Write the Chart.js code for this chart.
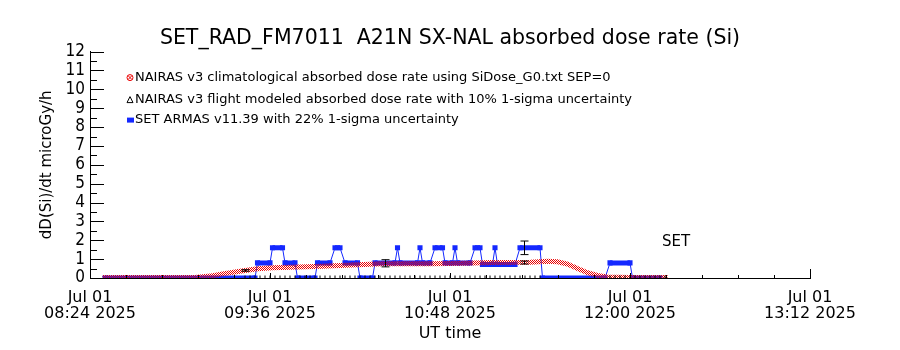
<!DOCTYPE html>
<html>
<head>
<meta charset="utf-8">
<title>SET_RAD_FM7011 A21N SX-NAL absorbed dose rate (Si)</title>
<script src="https://cdn.jsdelivr.net/npm/chart.js@4.4.1/dist/chart.umd.min.js"></script>
<style>
  html, body { margin: 0; padding: 0; background: #fff; }
  #wrap { width: 900px; height: 350px; }
</style>
</head>
<body>
<div id="wrap"><canvas id="doseChart" width="900" height="350"></canvas></div>
<script>
// x axis: minutes after Jul 01 2025 08:24 UT
const xTickMinutes = [0, 72, 144, 216, 288];
const xTickLabels = [
    ['Jul 01', '08:24 2025'],
    ['Jul 01', '09:36 2025'],
    ['Jul 01', '10:48 2025'],
    ['Jul 01', '12:00 2025'],
    ['Jul 01', '13:12 2025']
];
const xMinorMinutes = [14.4, 28.8, 43.2, 57.6, 86.4, 100.8, 115.2, 129.6,
    158.4, 172.8, 187.2, 201.6, 230.4, 244.8, 259.2, 273.6];

// y axis: microGy/h
const yTickValues = [0, 1, 2, 3, 4, 5, 6, 7, 8, 9, 10, 11, 12];
const yMinorValues = [0.5, 1.5, 2.5, 3.5, 4.5, 5.5, 6.5, 7.5, 8.5, 9.5, 10.5, 11.5];

// NAIRAS v3 climatological (red)
const redTime = [5, 20, 35, 42, 44, 48, 53, 60, 67, 73, 80, 93, 107, 117, 136, 150,
    160, 176, 183, 187, 191, 195, 199, 203, 207, 216, 231];
const redDose = [0.02, 0.02, 0.02, 0.03, 0.05, 0.10, 0.22, 0.36, 0.49, 0.54, 0.57, 0.62,
    0.70, 0.75, 0.76, 0.78, 0.82, 0.83, 0.89, 0.86, 0.74, 0.50, 0.28, 0.14, 0.05, 0.03, 0.02];

// SET ARMAS v11.39 (blue)
const blueTime = [6, 66, 67, 72, 73, 77, 78, 82, 83, 90, 91, 96, 98, 100, 102, 107,
    108, 113, 114, 122, 123, 124, 131, 132, 133, 136, 138, 141, 142, 145, 146, 147,
    152, 154, 156, 157, 161, 162, 163, 170, 172, 180, 181, 206, 208, 216, 217, 228];
const blueDose = [0, 0, 0.8, 0.8, 1.6, 1.6, 0.8, 0.8, 0, 0, 0.8, 0.8, 1.6, 1.6, 0.8, 0.8,
    0, 0, 0.8, 0.8, 1.6, 0.8, 0.8, 1.6, 0.8, 0.8, 1.6, 1.6, 0.8, 0.8, 1.6, 0.8,
    0.8, 1.6, 1.6, 0.72, 0.72, 1.6, 0.72, 0.72, 1.6, 1.6, 0, 0, 0.8, 0.8, 0, 0];

// NAIRAS v3 flight modeled (black) along the baseline
const blackTime = [62, 64, 66, 68, 70, 72, 74, 76, 78, 80, 82, 84, 86, 88, 90, 92, 94, 96,
    98, 100, 102, 104, 106, 108, 110, 112, 114, 116, 118, 120, 122, 124, 126, 128, 130,
    132, 134, 136, 138, 140, 142, 144, 146, 148, 150, 152, 154, 156, 158, 160, 162, 164,
    166, 168, 170, 172, 174, 176, 178, 180, 208, 210, 212, 214, 216, 218, 220, 222, 224,
    226, 228, 230];
const blackDose = blackTime.map(() => 0);

// points with 1-sigma error bars
const errTime = [62, 118, 173.5, 173.5];
const errDose = [0.40, 0.78, 1.60, 0.82];
const errSigma = [0.04, 0.19, 0.36, 0.08];

const FONT = '"DejaVu Sans", sans-serif';
const BLUE = 'rgb(20, 40, 255)';
const RED = 'rgb(235, 0, 0)';

// checkered red, like the overlapping symbols
function makeRedPattern() {
    const c = document.createElement('canvas');
    c.width = 2; c.height = 2;
    const g = c.getContext('2d');
    g.fillStyle = RED;
    g.fillRect(0, 0, 1, 1);
    g.fillRect(1, 1, 1, 1);
    return g.createPattern(c, 'repeat');
}

function toPoints(xs, ys) {
    return xs.map((x, i) => ({ x: x, y: ys[i] }));
}

// inward axis ticks, error bars, legend text
const idlDecor = {
    id: 'idlDecor',
    afterDatasetsDraw(chart) {
        const ctx = chart.ctx;
        const xs = chart.scales.x;
        const ys = chart.scales.y;
        const a = chart.chartArea;
        ctx.save();
        ctx.strokeStyle = '#000';
        ctx.lineWidth = 1;

        // error bars
        errTime.forEach((t, i) => {
            const px = Math.round(xs.getPixelForValue(t)) + 0.5;
            const lo = ys.getPixelForValue(errDose[i] - errSigma[i]);
            const hi = ys.getPixelForValue(errDose[i] + errSigma[i]);
            ctx.beginPath();
            ctx.moveTo(px, lo); ctx.lineTo(px, hi);
            ctx.moveTo(px - 4, lo); ctx.lineTo(px + 4, lo);
            ctx.moveTo(px - 4, hi); ctx.lineTo(px + 4, hi);
            ctx.stroke();
        });

        // ticks
        ctx.beginPath();
        xTickMinutes.forEach(v => {
            const px = Math.round(xs.getPixelForValue(v)) + 0.5;
            ctx.moveTo(px, a.bottom); ctx.lineTo(px, a.bottom - (v === 288 ? 9 : 5));
        });
        xMinorMinutes.forEach(v => {
            const px = Math.round(xs.getPixelForValue(v)) + 0.5;
            ctx.moveTo(px, a.bottom); ctx.lineTo(px, a.bottom - 3);
        });
        yTickValues.forEach(v => {
            const py = Math.round(ys.getPixelForValue(v)) + 0.5;
            ctx.moveTo(a.left, py); ctx.lineTo(a.left + 14, py);
        });
        yMinorValues.forEach(v => {
            const py = Math.round(ys.getPixelForValue(v)) + 0.5;
            ctx.moveTo(a.left, py); ctx.lineTo(a.left + 7, py);
        });
        ctx.stroke();

        // legend
        const lx = a.left + 40;
        const rows = [a.top + 26, a.top + 48, a.top + 68];
        ctx.font = '13px ' + FONT;
        ctx.fillStyle = '#000';
        ctx.textBaseline = 'middle';
        ctx.textAlign = 'left';
        ctx.fillText('NAIRAS v3 climatological absorbed dose rate using SiDose_G0.txt SEP=0', lx + 5, rows[0]);
        ctx.fillText('NAIRAS v3 flight modeled absorbed dose rate with 10% 1-sigma uncertainty', lx + 5, rows[1]);
        ctx.fillText('SET ARMAS v11.39 with 22% 1-sigma uncertainty', lx + 5, rows[2]);

        ctx.strokeStyle = RED;
        ctx.beginPath();
        ctx.arc(lx, rows[0], 3, 0, Math.PI * 2);
        ctx.moveTo(lx - 2, rows[0] - 2); ctx.lineTo(lx + 2, rows[0] + 2);
        ctx.moveTo(lx + 2, rows[0] - 2); ctx.lineTo(lx - 2, rows[0] + 2);
        ctx.stroke();

        ctx.strokeStyle = '#000';
        ctx.beginPath();
        ctx.moveTo(lx - 3, rows[1] + 3); ctx.lineTo(lx, rows[1] - 3); ctx.lineTo(lx + 3, rows[1] + 3);
        ctx.closePath();
        ctx.stroke();

        ctx.fillStyle = BLUE;
        ctx.fillRect(lx - 3, rows[2] - 2, 7, 5);

        ctx.fillStyle = '#000';
        ctx.font = '15px ' + FONT;
        ctx.fillText('SET', xs.getPixelForValue(228.8), ys.getPixelForValue(1.9));
        ctx.restore();
    }
};

const doseChart = new Chart(document.getElementById('doseChart'), {
    type: 'line',
    data: {
        datasets: [
            {
                label: 'NAIRAS v3 flight modeled absorbed dose rate with 10% 1-sigma uncertainty',
                data: toPoints(blackTime, blackDose),
                showLine: false,
                pointStyle: 'line',
                rotation: 90,
                pointRadius: 2.5,
                borderColor: '#000',
                borderWidth: 1,
                clip: 0,
                order: 1
            },
            {
                label: 'NAIRAS v3 climatological absorbed dose rate using SiDose_G0.txt SEP=0',
                data: toPoints(redTime, redDose),
                borderColor: makeRedPattern(),
                borderWidth: 5,
                pointRadius: 0,
                tension: 0,
                clip: 0,
                order: 2
            },
            {
                label: 'SET ARMAS v11.39 with 22% 1-sigma uncertainty',
                data: toPoints(blueTime, blueDose),
                borderColor: BLUE,
                backgroundColor: BLUE,
                borderWidth: 1,
                borderCapStyle: 'butt',
                pointStyle: 'rect',
                pointRadius: 3.6,
                pointBorderWidth: 0,
                segment: {
                    borderWidth: c => c.p0.parsed.y === c.p1.parsed.y ? 5 : 1
                },
                clip: 0,
                order: 3
            }
        ]
    },
    options: {
        responsive: false,
        animation: false,
        events: [],
        layout: { padding: 0 },
        plugins: {
            legend: { display: false },
            tooltip: { enabled: false },
            title: {
                display: true,
                text: 'SET_RAD_FM7011  A21N SX-NAL absorbed dose rate (Si)',
                color: '#000',
                font: { family: FONT, size: 20.5, weight: 'normal' },
                padding: { top: 26, bottom: 1 }
            }
        },
        scales: {
            x: {
                type: 'linear',
                min: 0,
                max: 288,
                grid: { display: false, drawTicks: false },
                border: { display: true, color: '#000', width: 1 },
                afterBuildTicks: s => { s.ticks = xTickMinutes.map(v => ({ value: v })); },
                afterFit: s => { s.height = 72; },
                ticks: {
                    autoSkip: false,
                    maxRotation: 0,
                    padding: 12,
                    color: '#000',
                    font: { family: FONT, size: 16, lineHeight: 1.0 },
                    callback: v => xTickLabels[xTickMinutes.indexOf(v)]
                },
                title: {
                    display: true,
                    text: 'UT time',
                    color: '#000',
                    font: { family: FONT, size: 16 },
                    padding: { top: 0, bottom: 7 }
                }
            },
            y: {
                min: 0,
                max: 12,
                grid: { display: false, drawTicks: false },
                border: { display: true, color: '#000', width: 1 },
                afterBuildTicks: s => { s.ticks = yTickValues.map(v => ({ value: v })); },
                afterFit: s => { s.width = 90; },
                ticks: {
                    autoSkip: false,
                    padding: 5,
                    color: '#000',
                    font: { family: '"Liberation Sans Narrow", "DejaVu Sans Condensed", sans-serif', size: 17, lineHeight: 1.0 },
                    callback: v => String(v)
                },
                title: {
                    display: true,
                    text: 'dD(Si)/dt microGy/h',
                    color: '#000',
                    font: { family: FONT, size: 15 },
                    padding: { top: 38, bottom: 0 }
                }
            },
            yRight: {
                position: 'right',
                display: true,
                grid: { display: false, drawTicks: false },
                border: { display: false },
                ticks: { display: false },
                afterFit: s => { s.width = 90; }
            }
        }
    },
    plugins: [idlDecor]
});
</script>
</body>
</html>
